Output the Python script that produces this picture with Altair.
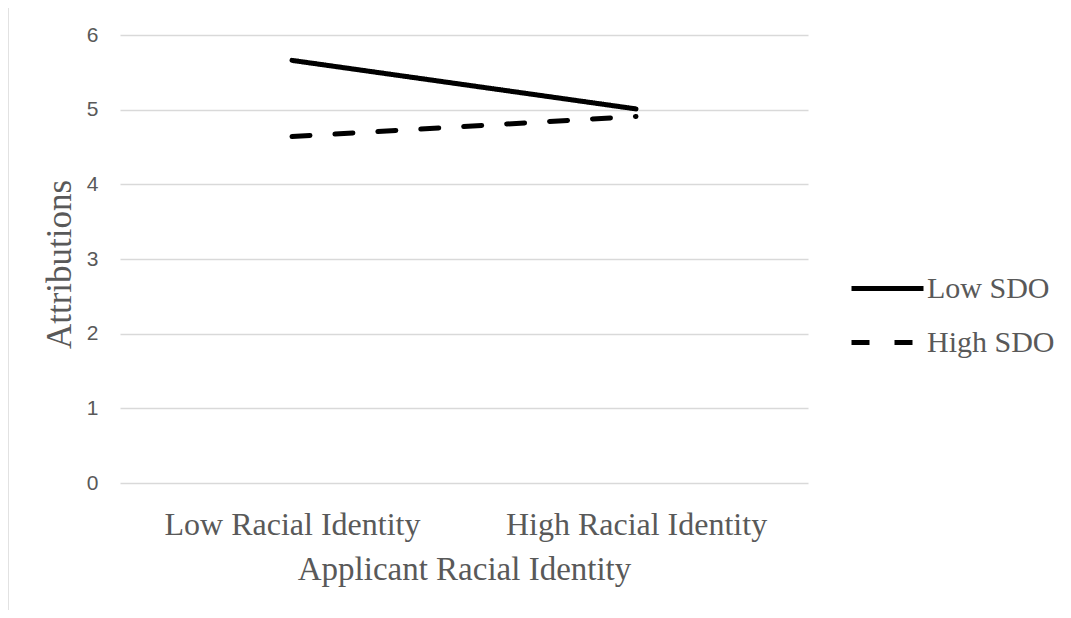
import altair as alt
import pandas as pd

categories = ["Low Racial Identity", "High Racial Identity"]
series = ["Low SDO", "High SDO"]
low_sdo = [5.66, 5.01]
high_sdo = [4.64, 4.91]

rows = []
for c, v in zip(categories, low_sdo):
    rows.append({"identity": c, "group": "Low SDO", "value": v})
for c, v in zip(categories, high_sdo):
    rows.append({"identity": c, "group": "High SDO", "value": v})
df = pd.DataFrame(rows)

SERIF = "Liberation Serif"
SANS = "Liberation Sans"
GREY = "#595959"

lines = alt.Chart(df).mark_line(strokeWidth=5, strokeCap="round", color="black", clip=False).encode(
    x=alt.X("identity:N", sort=categories, title="Applicant Racial Identity",
            scale=alt.Scale(paddingInner=0, paddingOuter=0),
            axis=alt.Axis(labelAngle=0, labelFont=SERIF, labelFontSize=32, labelColor=GREY,
                          labelBaseline="alphabetic", labelPadding=51, labelLimit=0,
                          domain=False, ticks=False, grid=False,
                          titleFont=SERIF, titleFontSize=33, titleColor=GREY,
                          titleFontWeight="normal", titleBaseline="alphabetic",
                          titleY=96, titleX=344)),
    y=alt.Y("value:Q", title="Attributions",
            scale=alt.Scale(domain=[0, 6], nice=False, zero=True),
            axis=alt.Axis(values=[0, 1, 2, 3, 4, 5, 6], labelFont=SANS, labelFontSize=21,
                          labelColor=GREY, labelPadding=22, domain=False, ticks=False,
                          gridColor="#d9d9d9", gridWidth=1.3,
                          titleFont=SERIF, titleFontSize=35, titleColor=GREY,
                          titleFontWeight="normal", titleBaseline="alphabetic",
                          titleAngle=270, titleX=-50, titleY=229)),
    strokeDash=alt.StrokeDash("group:N", sort=series, title=None,
                              scale=alt.Scale(domain=series, range=[[1, 0], [18, 25]]),
                              legend=alt.Legend(orient="none", legendX=729, legendY=215,
                                                symbolType="stroke", symbolSize=5184,
                                                symbolStrokeWidth=5, symbolStrokeColor="black",
                                                labelFont=SERIF, labelFontSize=30,
                                                labelColor=GREY, labelOffset=1, labelLimit=0,
                                                rowPadding=-2)),
    detail="group:N",
)

frame_left = alt.Chart(pd.DataFrame({"a": [0]})).mark_rule(color="#d9d9d9", strokeWidth=1.5, clip=False).encode(
    x=alt.value(-112), y=alt.value(-28), y2=alt.value(600)
)
frame_top = alt.Chart(pd.DataFrame({"a": [0]})).mark_rule(color="#d9d9d9", strokeWidth=1.5, clip=False).encode(
    x=alt.value(-112), x2=alt.value(960), y=alt.value(-28)
)

chart = alt.layer(frame_left, frame_top, lines).properties(
    width=688, height=448,
    padding={"left": 112, "top": 27, "right": 255, "bottom": 127},
    autosize=alt.AutoSizeParams(type="none"),
).configure_view(stroke=None).configure_legend(symbolStrokeColor="black")

chart.save("out.html", embed_options={"renderer": "svg", "actions": False})
